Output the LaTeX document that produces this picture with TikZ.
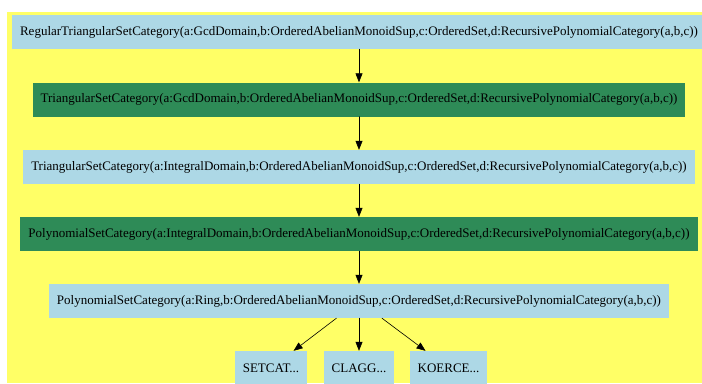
\documentclass[tikz,border=0pt]{standalone}
\usepackage{fontspec}
\setmainfont{Liberation Serif}
\usetikzlibrary{arrows.meta,positioning}
\definecolor{catBack}{HTML}{FFFF66}
\definecolor{catBlue}{HTML}{ADD8E6}
\definecolor{catGreen}{HTML}{2E8B57}
\begin{document}
\begin{tikzpicture}[x=1bp, y=-1bp, line cap=round, line join=round]
% category graph, drawn in pixel units
\providecommand{\catFontSize}{\fontsize{13bp}{15bp}\selectfont}
\tikzset{
  catnode/.style={draw=none, fill=catBlue, minimum height=34bp, inner xsep=8bp,
    font=\catFontSize, text=black},
  catgreen/.style={catnode, fill=catGreen},
  catarrow/.style={draw=black, line width=0.6bp, -{Triangle[length=9bp,width=7bp]}}
}
\useasboundingbox (0,0) rectangle (702,383);
% Background
\fill[catBack] (7,12) rectangle (702,383);
% Nodes
\node[catnode] (rtsc) at (359,32) {RegularTriangularSetCategory(a:GcdDomain,b:OrderedAbelianMonoidSup,c:OrderedSet,d:RecursivePolynomialCategory(a,b,c))};
\node[catgreen] (tscgcd) at (359,99.5) {TriangularSetCategory(a:GcdDomain,b:OrderedAbelianMonoidSup,c:OrderedSet,d:RecursivePolynomialCategory(a,b,c))};
\node[catnode] (tscint) at (359,167) {TriangularSetCategory(a:IntegralDomain,b:OrderedAbelianMonoidSup,c:OrderedSet,d:RecursivePolynomialCategory(a,b,c))};
\node[catgreen] (pscint) at (359,234) {PolynomialSetCategory(a:IntegralDomain,b:OrderedAbelianMonoidSup,c:OrderedSet,d:RecursivePolynomialCategory(a,b,c))};
\node[catnode] (pscring) at (359,301) {PolynomialSetCategory(a:Ring,b:OrderedAbelianMonoidSup,c:OrderedSet,d:RecursivePolynomialCategory(a,b,c))};
\node[catnode] (setcat) at (271,368) {SETCAT...};
\node[catnode] (clagg) at (359,368) {CLAGG...};
\node[catnode] (koerce) at (448.5,368) {KOERCE...};
% Edges
\draw[catarrow] (rtsc) -- (tscgcd);
\draw[catarrow] (tscgcd) -- (tscint);
\draw[catarrow] (tscint) -- (pscint);
\draw[catarrow] (pscint) -- (pscring);
\draw[catarrow] (pscring) -- (setcat);
\draw[catarrow] (pscring) -- (clagg);
\draw[catarrow] (pscring) -- (koerce);
\end{tikzpicture}
\end{document}
